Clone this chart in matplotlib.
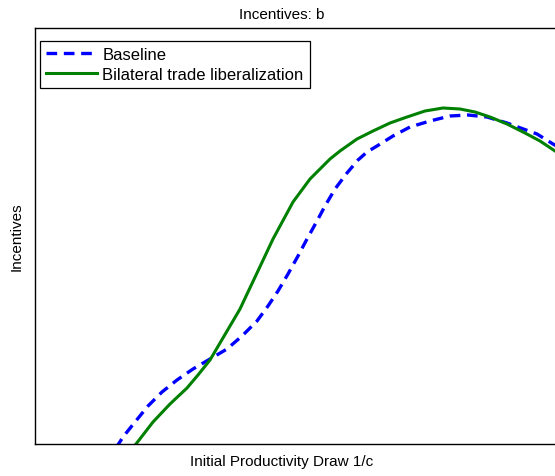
import matplotlib
matplotlib.use("Agg")
import matplotlib.pyplot as plt

# values (arbitrary units, x = productivity draw, y = incentives)
base_x = [81, 88, 100, 113, 127, 142, 158, 175, 192, 207, 222, 233, 243, 253, 263, 272,
          282, 290, 300, 312, 323, 332, 342, 358, 375, 395, 415, 433, 452, 472, 502, 518, 525]
base_y = [-4, 7, 22, 38, 52, 64, 75, 85, 95, 108, 123, 138, 153, 170, 188, 205,
          223, 238, 255, 271, 284, 292, 298, 308, 317, 323, 328, 329, 327, 321, 310, 300, 296]

lib_x = [98, 101, 118, 135, 152, 163, 175, 185, 195, 205, 213, 222, 238, 258, 275, 295, 305,
         322, 338, 355, 372, 390, 408, 425, 440, 455, 472, 490, 505, 520, 525]
lib_y = [-4, 0, 22, 40, 56, 69, 84, 101, 118, 135, 152, 171, 205, 242, 265, 285, 293,
         305, 313, 321, 327, 333, 336, 335, 332, 327, 320, 311, 303, 293, 290]

plt.rcParams['font.family'] = ['Liberation Sans', 'DejaVu Sans']

fig = plt.figure(figsize=(5.55, 4.77), dpi=100)
ax = fig.add_axes([35/555, 32/477, 525/555, 416/477])

ax.plot(base_x, base_y, color='#0000ff', linestyle=(0, (3.2, 2)), linewidth=2.4,
        dash_capstyle='butt', label='Baseline')
ax.plot(lib_x, lib_y, color='#008000', linewidth=2.2, solid_joinstyle='round',
        label='Bilateral trade liberalization')

ax.set_xlim(0, 525)
ax.set_ylim(0, 416)
ax.set_xticks([])
ax.set_yticks([])
for s in ax.spines.values():
    s.set_linewidth(1.0)

ax.set_title('Incentives: b', fontsize=11, x=247/525, pad=7)
ax.set_xlabel('Initial Productivity Draw 1/c', fontsize=11)
ax.xaxis.set_label_coords(247/525, -0.024)
ax.set_ylabel('Incentives', fontsize=11)
ax.yaxis.set_label_coords(-0.021, 0.5)

leg = ax.legend(loc='upper left', bbox_to_anchor=(0.0095, 0.969), fontsize=12,
                fancybox=False, edgecolor='black', framealpha=1,
                handlelength=3.1, handletextpad=0.3, borderpad=0.35,
                labelspacing=0.3, borderaxespad=0)
leg.get_frame().set_linewidth(0.9)

fig.savefig('out.png', dpi=100)
